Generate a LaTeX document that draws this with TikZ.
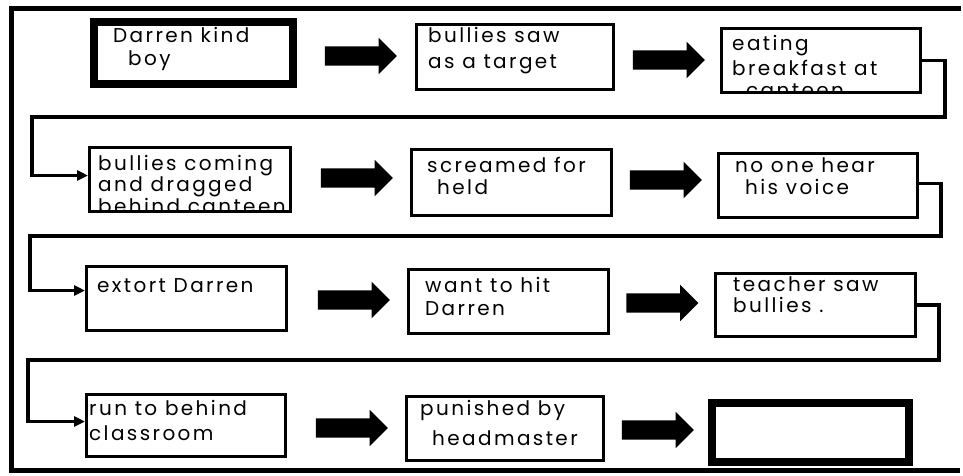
\documentclass[tikz,border=0pt]{standalone}
\usepackage{fontspec}
\setmainfont[LetterSpace=12]{Poppins}
\usetikzlibrary{shapes.arrows,arrows.meta,calc}

% several lines of hand lettering, anchored at the first baseline
\newcommand{\hwlines}[1]{\begin{tabular}[t]{@{}l@{}}#1\end{tabular}}

\begin{document}
\begin{tikzpicture}[x=1pt,y=-1pt,
  box/.style={draw, line width=3pt, inner sep=0pt},
  heavybox/.style={draw, line width=8pt, inner sep=0pt},
  txt/.style={inner sep=0pt, anchor=base west, font=\fontsize{20}{25}\selectfont},
  blk/.style={single arrow, fill=black, draw=none, inner xsep=0pt, inner ysep=9.5pt,
    minimum height=72pt, single arrow head extend=8.5pt},
  conn/.style={line width=3.5pt, -{Triangle[length=11pt,width=10pt]}},
  frame/.style={line width=5pt, line cap=rect}]
\useasboundingbox (0,0) rectangle (963,475);

% outer frame
\draw[frame] (958,8) -- (11,8) -- (11,470) -- (957,470);

% row 1
\node[heavybox, minimum width=199, minimum height=62] (b1) at (193.5,53) {};
\node[box, minimum width=197, minimum height=65] (b2) at (515,57) {};
\node[box, minimum width=199, minimum height=64] (b3) at (821,60.5) {};
% row 2
\node[box, minimum width=201, minimum height=64] (b4) at (190,179.5) {};
\node[box, minimum width=200, minimum height=66] (b5) at (511.5,182.5) {};
\node[box, minimum width=199, minimum height=64] (b6) at (818,185.5) {};
% row 3
\node[box, minimum width=200, minimum height=64] (b7) at (186.5,298.5) {};
\node[box, minimum width=200, minimum height=64] (b8) at (508.5,301.5) {};
\node[box, minimum width=200, minimum height=63] (b9) at (815.5,305) {};
% row 4
\node[box, minimum width=199, minimum height=62] (b10) at (186,425.5) {};
\node[box, minimum width=197, minimum height=64] (b11) at (505,428.5) {};
\node[heavybox, minimum width=197, minimum height=59] (b12) at (810.5,432.5) {};

% texts
\node[txt] (t1) at (113,42) {\hwlines{Darren kind\\[-2pt]\hspace{15pt}boy}};
\node[txt] (t2) at (428,42) {\hwlines{bullies saw\\[1pt]as a target}};
\begin{scope}
  \clip ($(b3.south west)+(1.5,-1.5)$) rectangle ($(b3.north east)+(-1.5,1.5)$);
  \node[txt] (t3) at (732,50) {\hwlines{eating\\breakfast at\\[-3pt]\hspace{14pt}canteen}};
\end{scope}
\begin{scope}
  \clip ($(b4.south west)+(1.5,-1.5)$) rectangle ($(b4.north east)+(-1.5,1.5)$);
  \node[txt] (t4) at (98,170) {\hwlines{bullies coming\\[-3.5pt]and dragged\\[-3.5pt]behind canteen}};
\end{scope}
\node[txt] (t5) at (427,172) {\hwlines{screamed for\\[-3pt]\hspace{10pt}held}};
\node[txt] (t6) at (735,172) {\hwlines{no one hear\\[-3pt]\hspace{10pt}his voice}};
\node[txt] (t7) at (97,292) {extort Darren};
\node[txt] (t8) at (425,292) {\hwlines{want to hit\\[-2pt]Darren}};
\node[txt] (t9) at (733,291) {\hwlines{teacher saw\\[-4pt]bullies .}};
\node[txt] (t10) at (89,415) {\hwlines{run to behind\\classroom}};
\node[txt] (t11) at (420,415) {\hwlines{punished by\\[5pt]\hspace{12pt}headmaster}};

% block arrows between the boxes of a row
\node[blk] (a1) at (356,56) {};
\node[blk] (a2) at (664,60) {};
\node[blk] (a3) at (352,178) {};
\node[blk] (a4) at (661,180) {};
\node[blk] (a5) at (349,300) {};
\node[blk] (a6) at (657.5,303) {};
\node[blk] (a7) at (347,428) {};
\node[blk] (a8) at (653,430) {};

% return lines from the end of one row to the start of the next
\coordinate (r1) at (945,117);
\coordinate (l1) at (32,117);
\coordinate (r2) at (941,236);
\coordinate (l2) at (30,236);
\coordinate (r3) at (939,360);
\coordinate (l3) at (28,360);
\draw[conn] (b3.east) -| (r1) -- (l1) |- ([yshift=4pt]b4.west);
\draw[conn] ([yshift=2pt]b6.east) -| (r2) -- (l2) |- ([yshift=8pt]b7.west);
\draw[conn] (b9.east) -| (r3) -- (l3) |- ([yshift=4pt]b10.west);
\end{tikzpicture}
\end{document}
